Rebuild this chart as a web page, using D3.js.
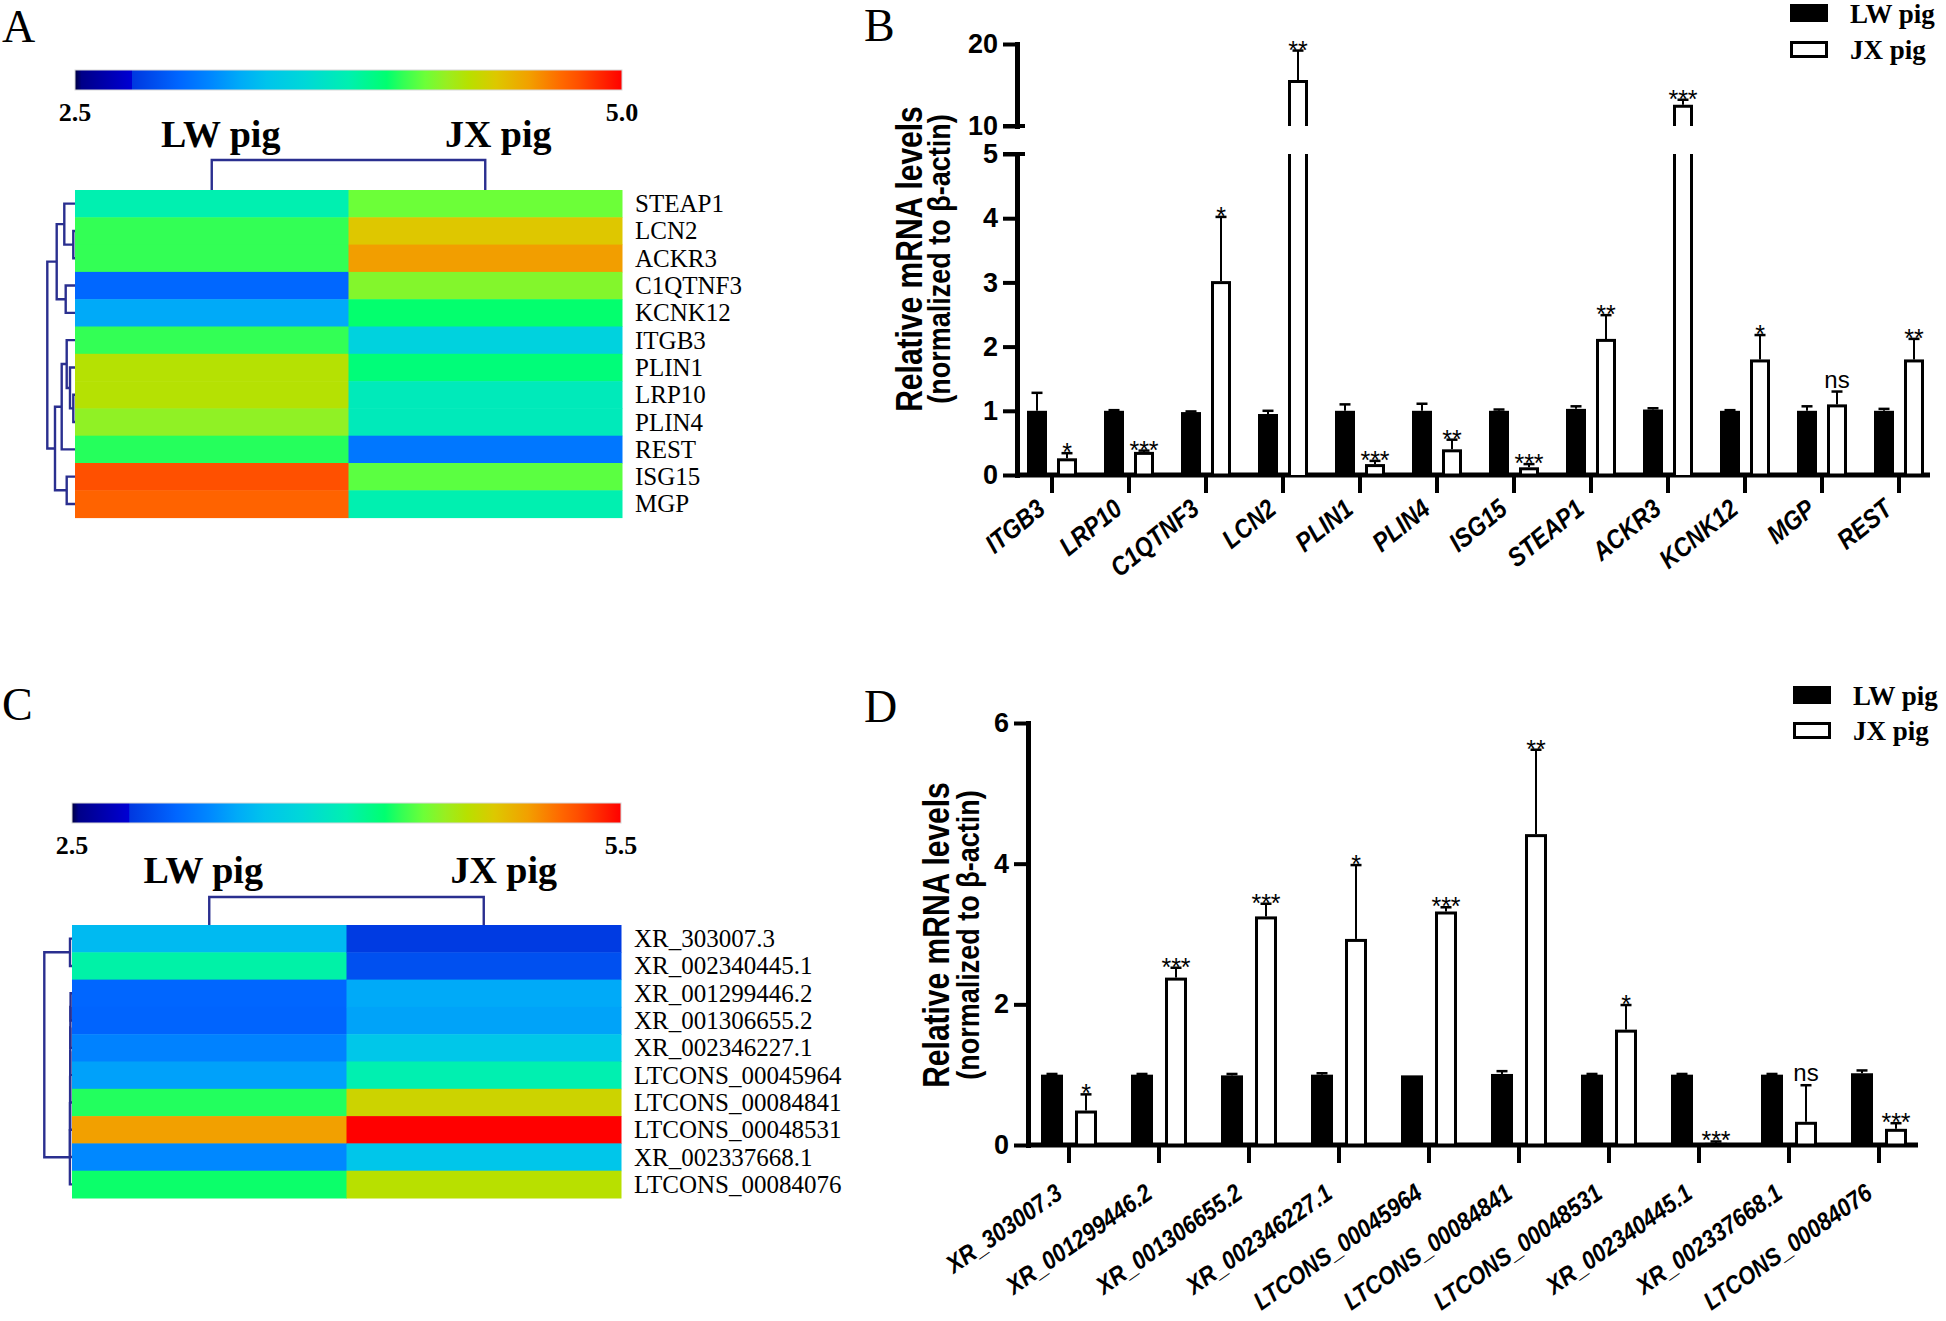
<!DOCTYPE html>
<html><head><meta charset="utf-8">
<script src="https://cdn.jsdelivr.net/npm/d3@7"></script>
<style>body{margin:0;background:#fff}svg{display:block}</style>
</head><body>
<svg id="c" width="1946" height="1321"></svg>
<script>
// ---------------- DATA ----------------
const groups = ["LW pig", "JX pig"];

// Panel A heatmap (log expression, colour scale 2.5 - 5.0)
const genesA = ["STEAP1","LCN2","ACKR3","C1QTNF3","KCNK12","ITGB3","PLIN1","LRP10","PLIN4","REST","ISG15","MGP"];
const heatLW_A = [3.75, 4.00, 4.00, 2.98, 3.25, 4.00, 4.29, 4.29, 4.18, 3.98, 4.80, 4.74];
const heatJX_A = [4.10, 4.43, 4.58, 4.15, 3.93, 3.50, 3.90, 3.70, 3.70, 3.05, 4.07, 3.75];
const colorDomainA = [2.5, 5.0];
// row dendrogram: [left, right, height]; leaves are row indices
const rowTreeA = [[[0,[1,2,1.7],10.7],[3,4,9.3],18.3],[[[5,[6,[7,8,1.7],5],8.3],9,13.3],[10,11,8.3],20],27.7];

// Panel C heatmap (colour scale 2.5 - 5.5)
const lncC = ["XR_303007.3","XR_002340445.1","XR_001299446.2","XR_001306655.2","XR_002346227.1","LTCONS_00045964","LTCONS_00084841","LTCONS_00048531","XR_002337668.1","LTCONS_00084076"];
const heatLW_C = [3.49, 4.03, 3.07, 3.06, 3.22, 3.36, 4.27, 4.99, 3.25, 4.23];
const heatJX_C = [2.83, 2.95, 3.40, 3.37, 3.58, 4.00, 4.74, 5.50, 3.57, 4.66];
const colorDomainC = [2.5, 5.5];
const rowTreeC = [[0,1,2.0],[[[[[[[2,3,1.4],4,1.6],5,1.7],6,1.8],7,1.9],8,2.0],9,2.1],27.7];

// colour map (fraction of colour bar -> colour)
const cmapT = [0, 0.012, 0.104, 0.105, 0.19, 0.25, 0.30, 0.35, 0.42, 0.50, 0.57, 0.60, 0.64, 0.68, 0.72, 0.77, 0.83, 0.89, 0.92, 1.0];
const cmapColors = ["#000040","#000088","#0000d4","#0038e0","#0066ff","#0088ff","#00aaf8","#00c4ec","#00d8d8","#00f0b0","#00ff70","#33ff55","#6cff38","#99ee20","#b8e000","#ddc800","#f2a000","#ff6800","#ff5000","#ff0000"];

// Panel B bar chart
const genesB = ["ITGB3","LRP10","C1QTNF3","LCN2","PLIN1","PLIN4","ISG15","STEAP1","ACKR3","KCNK12","MGP","REST"];
const barLW_B = [1.00, 1.00, 0.98, 0.95, 1.00, 1.00, 1.00, 1.03, 1.02, 1.00, 1.00, 1.00];
const errLW_B = [0.28, 0.01, 0.01, 0.05, 0.10, 0.11, 0.02, 0.04, 0.02, 0.01, 0.07, 0.03];
const barJX_B = [0.26, 0.36, 3.02, 15.6, 0.17, 0.40, 0.12, 2.12, 12.6, 1.80, 1.10, 1.80];
const errJX_B = [0.08, 0.02, 1.00, 3.60, 0.05, 0.15, 0.05, 0.37, 0.60, 0.38, 0.20, 0.32];
const sigB = ["*","***","*","**","***","**","***","**","***","*","ns","**"];
const ticksB_low = [0,1,2,3,4,5];
const ticksB_high = [10,20];

// Panel D bar chart
const lncD = ["XR_303007.3","XR_001299446.2","XR_001306655.2","XR_002346227.1","LTCONS_00045964","LTCONS_00084841","LTCONS_00048531","XR_002340445.1","XR_002337668.1","LTCONS_00084076"];
const barLW_D = [1.00, 1.00, 0.99, 1.00, 0.99, 1.01, 1.00, 1.00, 1.00, 1.02];
const errLW_D = [0.01, 0.01, 0.02, 0.02, 0.00, 0.04, 0.01, 0.01, 0.01, 0.04];
const barJX_D = [0.49, 2.38, 3.25, 2.93, 3.32, 4.42, 1.64, 0.03, 0.33, 0.23];
const errJX_D = [0.23, 0.14, 0.18, 1.05, 0.06, 1.20, 0.35, 0.02, 0.52, 0.08];
const sigD = ["*","***","***","*","***","**","*","***","ns","***"];
const ticksD = [0,2,4,6];

// ---------------- DRAWING ----------------
const svg = d3.select("#c");
const SERIF = "'Liberation Serif','Times New Roman',serif";
const SANS = "'Liberation Sans',Arial,sans-serif";
const DCOL = "#2a2f8f";
const defs = svg.append("defs");

function panelLetter(t, x, y){
  svg.append("text").attr("x",x).attr("y",y).text(t)
    .attr("font-family",SERIF).attr("font-size",46).attr("fill","#000");
}
panelLetter("A",2,42); panelLetter("B",864,41); panelLetter("C",2,720); panelLetter("D",864,722);

function drawTree(g, node, yOf, hx){
  if (typeof node === "number") return {y: yOf(node), h: 0};
  const a = drawTree(g, node[0], yOf, hx), b = drawTree(g, node[1], yOf, hx);
  const h = node[2];
  g.append("path")
    .attr("d", `M${hx(a.h)},${a.y}H${hx(h)}V${b.y}H${hx(b.h)}`)
    .attr("fill","none").attr("stroke",DCOL).attr("stroke-width",2.4);
  return {y: (a.y + b.y) / 2, h};
}

function heatmap(cfg){
  const g = svg.append("g");
  const [d0, d1] = cfg.domain;
  const color = d3.scaleLinear().domain(cmapT.map(t => d0 + t*(d1-d0))).range(cmapColors).clamp(true);
  const x = d3.scaleBand().domain(groups).range([cfg.left, cfg.right]);
  const y = d3.scaleBand().domain(d3.range(cfg.rows.length)).range([cfg.top, cfg.top + cfg.rowH*cfg.rows.length]);

  // colour bar
  const grad = defs.append("linearGradient").attr("id","grad"+cfg.id).attr("x1","0%").attr("x2","100%");
  cmapT.forEach((t,i) => grad.append("stop").attr("offset", t).attr("stop-color", cmapColors[i]));
  g.append("rect").attr("x",cfg.left).attr("y",cfg.cbTop).attr("width",cfg.right-cfg.left).attr("height",cfg.cbH)
    .attr("fill",`url(#grad${cfg.id})`).attr("stroke","#d8d8d8").attr("stroke-width",1);
  [[cfg.left, d0], [cfg.right, d1]].forEach(([px, v]) => {
    g.append("text").attr("x",px).attr("y",cfg.cbTop+cfg.cbH+31).attr("text-anchor","middle")
      .attr("font-family",SERIF).attr("font-weight","bold").attr("font-size",26).text(v.toFixed(1));
  });

  // column headers
  groups.forEach((gr, j) => {
    g.append("text").attr("x", x(gr)+x.bandwidth()/2 + cfg.headDx[j]).attr("y", cfg.headBase).attr("text-anchor","middle")
      .attr("font-family",SERIF).attr("font-weight","bold").attr("font-size",38).text(gr);
  });
  // column dendrogram
  const cx0 = x(groups[0])+x.bandwidth()/2, cx1 = x(groups[1])+x.bandwidth()/2;
  const colH = d3.scaleLinear().domain([0,1]).range([cfg.top, cfg.colDendroY]);
  g.append("path").attr("d",`M${cx0},${colH(0)}V${colH(1)}H${cx1}V${colH(0)}`)
    .attr("fill","none").attr("stroke",DCOL).attr("stroke-width",2.4);

  // cells
  [cfg.lw, cfg.jx].forEach((arr, j) => {
    g.selectAll(null).data(arr).enter().append("rect")
      .attr("x", x(groups[j])).attr("y", (d,i) => y(i))
      .attr("width", x.bandwidth()+0.5).attr("height", y.bandwidth()+0.5)
      .attr("fill", d => color(d));
  });
  // row labels
  g.selectAll(null).data(cfg.rows).enter().append("text")
    .attr("x", cfg.right + 13).attr("y", (d,i) => y(i)+y.bandwidth()/2)
    .attr("dominant-baseline","central").attr("font-family",SERIF).attr("font-size",25).text(d => d);

  // row dendrogram
  const hx = d3.scaleLinear().domain([0,1]).range([cfg.left, cfg.left-1]);
  drawTree(g, cfg.tree, i => y(i)+y.bandwidth()/2, hx);
}

heatmap({id:"A", rows:genesA, lw:heatLW_A, jx:heatJX_A, domain:colorDomainA, tree:rowTreeA,
  left:75, right:622, top:190, rowH:27.3, cbTop:70, cbH:20, colDendroY:160, headBase:147, headDx:[9,13]});
heatmap({id:"C", rows:lncC, lw:heatLW_C, jx:heatJX_C, domain:colorDomainC, tree:rowTreeC,
  left:72, right:621, top:925, rowH:27.3, cbTop:803, cbH:20, colDendroY:897, headBase:883, headDx:[-6,20]});

// ---------- bar chart helpers ----------
function styleAxis(ax){
  ax.select(".domain").attr("stroke","#000").attr("stroke-width",5).attr("stroke-linecap","square");
  ax.selectAll(".tick line").attr("stroke","#000").attr("stroke-width",4);
  ax.selectAll(".tick text").attr("font-family",SANS).attr("font-weight","bold").attr("font-size",27).attr("fill","#000");
}

function yTitle(cx1, cx2, cy){
  svg.append("text").attr("transform",`translate(${cx1},${cy}) rotate(-90) scale(1,1.2)`).attr("text-anchor","middle")
    .attr("dominant-baseline","central").attr("font-family",SANS).attr("font-weight","bold").attr("font-size",30)
    .text("Relative mRNA levels");
  svg.append("text").attr("transform",`translate(${cx2},${cy}) rotate(-90) scale(1,1.15)`).attr("text-anchor","middle")
    .attr("dominant-baseline","central").attr("font-family",SANS).attr("font-weight","bold").attr("font-size",27)
    .text("(normalized to \u03b2-actin)");
}

function legend(x, yLW, yJX){
  svg.append("rect").attr("x",x).attr("y",yLW).attr("width",38).attr("height",18).attr("fill","#000");
  svg.append("rect").attr("x",x+1.5).attr("y",yJX+1.5).attr("width",35).attr("height",14)
    .attr("fill","#fff").attr("stroke","#000").attr("stroke-width",3);
  [["LW pig", yLW+19],["JX pig", yJX+18]].forEach(([t,yy]) => {
    svg.append("text").attr("x",x+60).attr("y",yy).attr("font-family",SERIF).attr("font-weight","bold")
      .attr("font-size",27).text(t);
  });
}

function errorBar(g, cx, yTop, yErr){
  g.append("line").attr("x1",cx).attr("x2",cx).attr("y1",yTop).attr("y2",yErr).attr("stroke","#000").attr("stroke-width",2);
  g.append("line").attr("x1",cx-5.5).attr("x2",cx+5.5).attr("y1",yErr).attr("y2",yErr).attr("stroke","#000").attr("stroke-width",2.5);
}

function sigText(g, cx, yErr, s){
  g.append("text").attr("x",cx).attr("y", s === "ns" ? yErr-4 : yErr+8).attr("text-anchor","middle")
    .attr("font-family",SANS).attr("font-size",s === "ns" ? 24 : 25).text(s);
}

function xLabels(g, cats, xc, y0, rot, dx, dy, fs){
  cats.forEach(c => {
    g.append("line").attr("x1",xc(c)).attr("x2",xc(c)).attr("y1",y0).attr("y2",y0+18).attr("stroke","#000").attr("stroke-width",4);
    g.append("text").attr("transform",`translate(${xc(c)+dx},${y0+dy}) rotate(${rot}) scale(1,1.15)`).attr("text-anchor","end")
      .attr("font-family",SANS).attr("font-weight","bold").attr("font-style","italic").attr("font-size",fs).text(c);
  });
}

// ---------- Panel B ----------
{
  const g = svg.append("g");
  const axX = 1017;
  const xB = d3.scaleBand().domain(genesB).range([1013.5, 1937.5]);
  const xc = c => xB(c) + xB.bandwidth()/2;
  const sub = d3.scaleBand().domain(groups).range([-25, 25]).paddingInner(1/3);
  const yLow = d3.scaleLinear().domain([0,5]).range([475,154]);
  const yHigh = d3.scaleLinear().domain([10,20]).range([126,44]);
  const yB = v => v <= 5 ? yLow(v) : yHigh(Math.max(v,10));

  g.append("line").attr("x1",axX).attr("x2",1930).attr("y1",yLow(0)).attr("y2",yLow(0)).attr("stroke","#000").attr("stroke-width",5);

  genesB.forEach((c,i) => {
    const w = sub.bandwidth();
    const xl = xc(c) + sub(groups[0]);
    g.append("rect").attr("x",xl).attr("y",yB(barLW_B[i])).attr("width",w)
      .attr("height",yLow(0)-yB(barLW_B[i])).attr("fill","#000");
    errorBar(g, xl+w/2, yB(barLW_B[i]), yB(barLW_B[i]+errLW_B[i]));
    const xj = xc(c) + sub(groups[1]);
    const v = barJX_B[i], top = v + errJX_B[i];
    if (v <= 5){
      g.append("rect").attr("x",xj+1.5).attr("y",yB(v)+1.5).attr("width",w-3).attr("height",Math.max(0,yLow(0)-yB(v)-1.5))
        .attr("fill","#fff").attr("stroke","#000").attr("stroke-width",3);
    } else {
      g.append("rect").attr("x",xj+1.5).attr("y",yLow(5)).attr("width",w-3).attr("height",yLow(0)-yLow(5)).attr("fill","#fff");
      g.append("path").attr("d",`M${xj+1.5},${yLow(0)}V${yLow(5)}M${xj+w-1.5},${yLow(5)}V${yLow(0)}`)
        .attr("fill","none").attr("stroke","#000").attr("stroke-width",3);
      g.append("path").attr("d",`M${xj+1.5},${yHigh(10)}V${yHigh(v)+1.5}H${xj+w-1.5}V${yHigh(10)}`)
        .attr("fill","#fff").attr("stroke","#000").attr("stroke-width",3);
    }
    errorBar(g, xj+w/2, yB(v), yB(top));
    sigText(g, xj+w/2, yB(top), sigB[i]);
  });

  const a1 = g.append("g").attr("transform",`translate(${axX},0)`)
    .call(d3.axisLeft(yLow).tickValues(ticksB_low).tickSize(14).tickSizeOuter(0).tickPadding(5).tickFormat(d3.format("d")));
  styleAxis(a1);
  const a2 = g.append("g").attr("transform",`translate(${axX},0)`)
    .call(d3.axisLeft(yHigh).tickValues(ticksB_high).tickSize(14).tickSizeOuter(0).tickPadding(5).tickFormat(d3.format("d")));
  styleAxis(a2);
  [yLow(5), yHigh(10)].forEach(yy => g.append("line").attr("x1",axX-14).attr("x2",axX+8).attr("y1",yy).attr("y2",yy).attr("stroke","#000").attr("stroke-width",4));

  xLabels(g, genesB, xc, yLow(0), -39, -5, 37, 23);
  yTitle(910, 939, 259);
  legend(1790, 4, 41);
}

// ---------- Panel D ----------
{
  const g = svg.append("g");
  const axX = 1028;
  const xD = d3.scaleBand().domain(lncD).range([1024, 1924]);
  const xc = c => xD(c) + xD.bandwidth()/2;
  const sub = d3.scaleBand().domain(groups).range([-28, 28]).paddingInner(0.353);
  const yD = d3.scaleLinear().domain([0,6]).range([1145,723]);

  g.append("line").attr("x1",axX).attr("x2",1918).attr("y1",yD(0)).attr("y2",yD(0)).attr("stroke","#000").attr("stroke-width",5);

  lncD.forEach((c,i) => {
    const w = sub.bandwidth();
    const xl = xc(c) + sub(groups[0]);
    g.append("rect").attr("x",xl).attr("y",yD(barLW_D[i])).attr("width",w)
      .attr("height",yD(0)-yD(barLW_D[i])).attr("fill","#000");
    if (errLW_D[i] > 0) errorBar(g, xl+w/2, yD(barLW_D[i]), yD(barLW_D[i]+errLW_D[i]));
    const xj = xc(c) + sub(groups[1]);
    const v = barJX_D[i], top = v + errJX_D[i];
    g.append("rect").attr("x",xj+1.5).attr("y",yD(v)+1.5).attr("width",w-3).attr("height",Math.max(0,yD(0)-yD(v)-1.5))
      .attr("fill","#fff").attr("stroke","#000").attr("stroke-width",3);
    errorBar(g, xj+w/2, yD(v), yD(top));
    sigText(g, xj+w/2, yD(top), sigD[i]);
  });

  const a1 = g.append("g").attr("transform",`translate(${axX},0)`)
    .call(d3.axisLeft(yD).tickValues(ticksD).tickSize(14).tickSizeOuter(0).tickPadding(5).tickFormat(d3.format("d")));
  styleAxis(a1);

  xLabels(g, lncD, xc, yD(0), -35, -5, 52, 22);
  yTitle(937, 968, 935);
  legend(1793, 686, 722);
}
</script>
</body></html>
